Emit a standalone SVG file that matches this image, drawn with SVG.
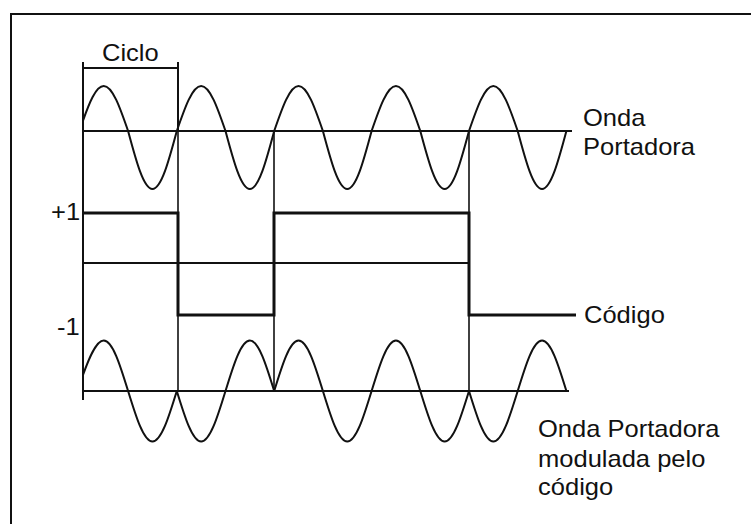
<svg xmlns="http://www.w3.org/2000/svg" width="751" height="524" viewBox="0 0 751 524">
<style>
.bg{fill:#fff}
.ln{fill:none;stroke:#111;stroke-width:2;stroke-linecap:butt;stroke-linejoin:miter}
.thin{fill:none;stroke:#111;stroke-width:1.6}
.code{fill:none;stroke:#111;stroke-width:3;stroke-linejoin:miter}
.wave{fill:none;stroke:#111;stroke-width:2;stroke-linejoin:round}
.t{font-family:"Liberation Sans",Arial,sans-serif;font-size:23px;fill:#111}
</style>
<rect class="bg" width="751" height="524"/>
<g id="frame"><path class="ln" d="M11,524 V14 H751"/></g>
<g id="connectors">
  <path class="ln" d="M83,62 V400"/>
  <path class="ln" d="M83,68 H178"/>
  <path class="ln" d="M178,62 V131"/>
  <path class="thin" d="M178,131 V391"/>
  <path class="thin" d="M274,131 V391"/>
  <path class="thin" d="M469,131 V391"/>
  <path class="ln" d="M83,131 H572"/>
  <path class="ln" d="M83,263 H469"/>
  <path class="ln" d="M83,391 H569"/>
</g>
<g id="carrier">
<path class="wave" d="M83,120.6 c6,-16.9 12.75,-34.6 20.75,-34.6
c8.81,0 16.41,21.95 24.35,45 c7.94,29.71 15.54,58 24.35,58 c8.81,0 16.41,-28.29 24.35,-58
c7.94,-23.05 15.54,-45 24.35,-45 c8.81,0 16.41,21.95 24.35,45 c7.94,29.71 15.54,58 24.35,58 c8.81,0 16.41,-28.29 24.35,-58
c7.94,-23.05 15.54,-45 24.35,-45 c8.81,0 16.41,21.95 24.35,45 c7.94,29.71 15.54,58 24.35,58 c8.81,0 16.41,-28.29 24.35,-58
c7.94,-23.05 15.54,-45 24.35,-45 c8.81,0 16.41,21.95 24.35,45 c7.94,29.71 15.54,58 24.35,58 c8.81,0 16.41,-28.29 24.35,-58
c7.94,-23.05 15.54,-45 24.35,-45 c8.81,0 16.41,21.95 24.35,45 c7.94,29.71 15.54,58 24.35,58 c8.81,0 16.41,-28.29 24.35,-58"/>
</g>
<g id="code">
<path class="code" d="M83,213 H178 V315 H274 V213 H469 V315 H576"/>
</g>
<g id="modulated">
<path class="wave" d="M83,375 c5,-14 12.75,-34.5 20.75,-34.5
c8.81,0 16.41,24.63 24.35,50.5 c7.94,25.87 15.54,50.5 24.35,50.5 c8.81,0 16.41,-24.63 24.35,-50.5
c7.94,25.87 15.54,50.5 24.35,50.5 c8.81,0 16.41,-24.63 24.35,-50.5 c7.94,-25.87 15.54,-50.5 24.35,-50.5 c8.81,0 16.41,24.63 24.35,50.5
c7.94,-25.87 15.54,-50.5 24.35,-50.5 c8.81,0 16.41,24.63 24.35,50.5 c7.94,25.87 15.54,50.5 24.35,50.5 c8.81,0 16.41,-24.63 24.35,-50.5
c7.94,-25.87 15.54,-50.5 24.35,-50.5 c8.81,0 16.41,24.63 24.35,50.5 c7.94,25.87 15.54,50.5 24.35,50.5 c8.81,0 16.41,-24.63 24.35,-50.5
c7.94,25.87 15.54,50.5 24.35,50.5 c8.81,0 16.41,-24.63 24.35,-50.5 c7.94,-25.87 15.54,-50.5 24.35,-50.5 c8.81,0 16.41,24.63 24.35,50.5"/>
</g>
<g id="labels">
  <text class="t" transform="translate(102,61) scale(1.11,1)">Ciclo</text>
  <text class="t" transform="translate(583,126) scale(1.11,1)"><tspan x="0" y="0">Onda</tspan><tspan x="0" y="29">Portadora</tspan></text>
  <text class="t" transform="translate(51,220) scale(1.11,1)">+1</text>
  <text class="t" transform="translate(57,335) scale(1.11,1)">-1</text>
  <text class="t" transform="translate(584,323) scale(1.11,1)">Código</text>
  <text class="t" transform="translate(538,437) scale(1.11,1)"><tspan x="0" y="0">Onda Portadora</tspan><tspan x="0" y="30">modulada pelo</tspan><tspan x="0" y="58">código</tspan></text>
</g>
</svg>
